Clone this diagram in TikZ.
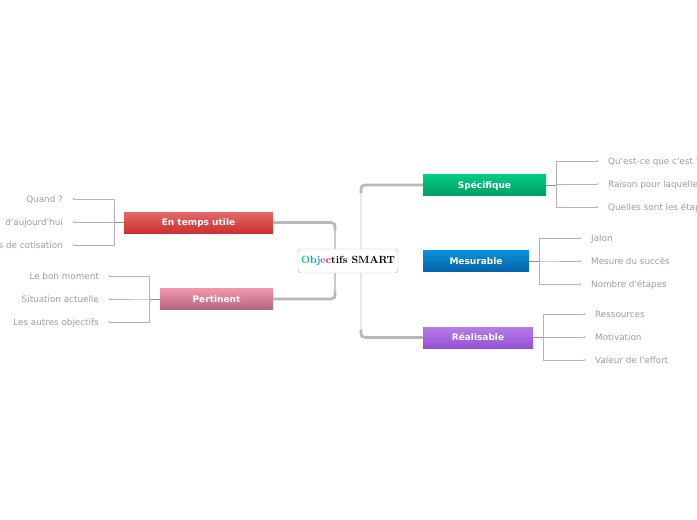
\documentclass[tikz,border=0pt]{standalone}
\usepackage{fontspec}
\usetikzlibrary{arrows.meta}
\newfontfamily\mapfont{DejaVu Sans}
\definecolor{leafgray}{HTML}{9E9E9E}
\definecolor{twiggray}{HTML}{B4B4B4}
\definecolor{trunkgray}{HTML}{B8B8B8}
\definecolor{spinegray}{HTML}{E8E8E8}
\definecolor{spectop}{HTML}{00CC84}
\definecolor{specbot}{HTML}{009E62}
\definecolor{mestop}{HTML}{0A92DE}
\definecolor{mesbot}{HTML}{0562A6}
\definecolor{realtop}{HTML}{B77CE6}
\definecolor{realbot}{HTML}{9650D8}
\definecolor{tempstop}{HTML}{E26A6A}
\definecolor{tempsbot}{HTML}{CC3030}
\definecolor{perttop}{HTML}{F295AE}
\definecolor{pertbot}{HTML}{B4667E}

\begin{document}
\begin{tikzpicture}[x=1pt, y=-1pt,
    topic/.style={rectangle, text=white, font=\mapfont\bfseries\fontsize{9}{11}\selectfont, minimum height=21pt, inner sep=0pt, text height=6.8pt, text depth=0pt},
    leaf/.style={font=\mapfont\fontsize{8.8}{10}\selectfont, text=leafgray, inner sep=0pt, text height=6.5pt, text depth=0.4pt},
    twig/.style={draw=twiggray, line width=0.8pt, -{Latex[length=2.2pt,width=2pt]}, shorten >=9pt},
    stem/.style={draw=twiggray!80!black, line width=0.8pt},
    trunk/.style={draw=trunkgray, line width=2.6pt, rounded corners=4pt},
    spine/.style={line width=1.4pt}
]
\useasboundingbox[fill=white] (0,0) rectangle (697,520);

% liens du centre
\coordinate (lx) at (335,0);
\coordinate (rx) at (361,0);

\node[topic, minimum width=123pt, top color=spectop, bottom color=specbot] (spec) at (484.5,185) {Spécifique};
\node[topic, minimum width=106pt, top color=mestop, bottom color=mesbot] (mes) at (476,261) {Mesurable};
\node[topic, minimum width=110pt, top color=realtop, bottom color=realbot] (real) at (478,337.5) {Réalisable};
\node[topic, minimum width=149pt, top color=tempstop, bottom color=tempsbot] (temps) at (198.5,222.5) {En temps utile};
\node[topic, minimum width=113pt, top color=perttop, bottom color=pertbot] (pert) at (216.5,299) {Pertinent};

\draw[spine, draw=spinegray] (spec.west -| rx) -- (real.west -| rx);
\draw[spine, draw=twiggray!70] (temps.east -| lx) -- (pert.east -| lx);
\draw[trunk] (spec.west) -- (spec.west -| rx) -- ++(0,8);
\draw[trunk] (real.west) -- (real.west -| rx) -- ++(0,-8);
\draw[trunk] (temps.east) -- (temps.east -| lx) -- ++(0,8);
\draw[trunk] (pert.east) -- (pert.east -| lx) -- ++(0,-8);

\node[draw=gray!50, fill=white, rounded corners=3pt, minimum width=100pt, minimum height=24pt, inner sep=0pt, font=\bfseries\fontsize{10.4}{12}\selectfont] (root) at (348,261)
  {\textcolor{spectop}{O}\textcolor{teal!70!green}{b}\textcolor{mestop}{j}\textcolor{realbot}{e}\textcolor{red!85!magenta}{c}tifs SMART};

% feuilles
\node[leaf, anchor=west] (s1) at (608,161) {Qu'est-ce que c'est ?};
\node[leaf, anchor=west] (s2) at (608,184) {Raison pour laquelle};
\node[leaf, anchor=west] (s3) at (608,207) {Quelles sont les étapes};
\node[leaf, anchor=west] (m1) at (591,238) {Jalon};
\node[leaf, anchor=west] (m2) at (591,261) {Mesure du succès};
\node[leaf, anchor=west] (m3) at (591,284) {Nombre d'étapes};
\node[leaf, anchor=west] (r1) at (595,314) {Ressources};
\node[leaf, anchor=west] (r2) at (595,337) {Motivation};
\node[leaf, anchor=west] (r3) at (595,360) {Valeur de l'effort};
\node[leaf, anchor=east] (t1) at (63,199) {Quand ?};
\node[leaf, anchor=east] (t2) at (63,222) {d'aujourd'hui};
\node[leaf, anchor=east] (t3) at (63,245) {s de cotisation};
\node[leaf, anchor=east] (p1) at (99,276) {Le bon moment};
\node[leaf, anchor=east] (p2) at (99,299) {Situation actuelle};
\node[leaf, anchor=east] (p3) at (99,322) {Les autres objectifs};

\foreach \n in {s1,s2,s3} \draw[twig] (spec.east) -- ++(10,0) |- (\n.west);
\foreach \n in {m1,m2,m3} \draw[twig] (mes.east) -- ++(10,0) |- (\n.west);
\foreach \n in {r1,r2,r3} \draw[twig] (real.east) -- ++(10,0) |- (\n.west);
\foreach \n in {t1,t2,t3} \draw[twig] (temps.west) -- ++(-9,0) |- (\n.east);
\foreach \n in {p1,p2,p3} \draw[twig] (pert.west) -- ++(-10,0) |- (\n.east);

\draw[stem] (spec.east) -- ++(10,0);
\draw[stem] (mes.east) -- ++(10,0);
\draw[stem] (real.east) -- ++(10,0);
\draw[stem] (temps.west) -- ++(-9,0);
\draw[stem] (pert.west) -- ++(-10,0);

\end{tikzpicture}
\end{document}
